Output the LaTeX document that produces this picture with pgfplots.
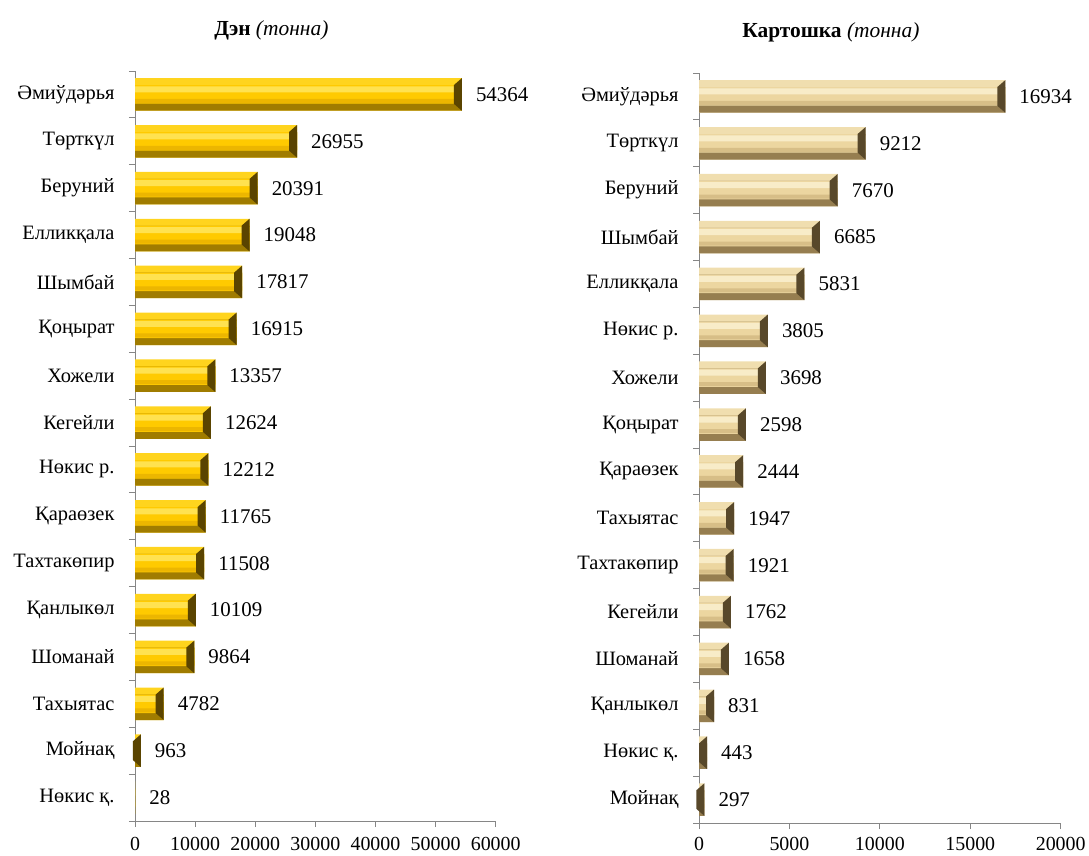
\documentclass[border=0pt]{standalone}
\usepackage{fontspec}
\setmainfont{Liberation Serif}
\usepackage{pgfplots}
\pgfplotsset{compat=1.18}
\usepackage{pgfplotstable}

\definecolor{axgray}{RGB}{134,134,134}
% gold
\definecolor{gcT}{RGB}{255,226,80}
\definecolor{gcM}{RGB}{255,202,0}
\definecolor{gcB}{RGB}{236,182,0}
\definecolor{gTop}{RGB}{255,212,30}
\definecolor{gBot}{RGB}{160,124,0}
\definecolor{gRight}{RGB}{90,68,0}
% beige
\definecolor{bcT}{RGB}{248,236,200}
\definecolor{bcM}{RGB}{236,214,160}
\definecolor{bcB}{RGB}{215,190,135}
\definecolor{bTop}{RGB}{240,222,175}
\definecolor{bBot}{RGB}{150,126,80}
\definecolor{bRight}{RGB}{88,72,42}

\pgfdeclareplotmark{rbevel}{%
  \pgfpathmoveto{\pgfqpoint{0pt}{16.3bp}}%
  \pgfpathlineto{\pgfqpoint{0pt}{-16.3bp}}%
  \pgfpathlineto{\pgfqpoint{-8bp}{-9.3bp}}%
  \pgfpathlineto{\pgfqpoint{-8bp}{9.3bp}}%
  \pgfpathclose
  \pgfusepathqfill}

\pgfplotstableread{
i v
0 54364
1 26955
2 20391
3 19048
4 17817
5 16915
6 13357
7 12624
8 12212
9 11765
10 11508
11 10109
12 9864
13 4782
14 963
15 28
}\grain

\pgfplotstableread{
i v
0 16934
1 9212
2 7670
3 6685
4 5831
5 3805
6 3698
7 2598
8 2444
9 1947
10 1921
11 1762
12 1658
13 831
14 443
15 297
}\potato

\pgfplotsset{
  common/.style={
    scale only axis, height=750bp,
    ymin=-0.5, ymax=15.5, y dir=reverse,
    axis x line*=bottom, axis y line*=left,
    axis line style={draw=axgray, line width=1bp},
    tick style={draw=axgray, line width=1bp},
    tick align=outside,
    major tick length=0pt,
    ytick={0,...,15},
    yticklabel style={font=\fontsize{20.5}{24}\selectfont, xshift=-17bp},
    xticklabel style={font=\fontsize{20}{22}\selectfont, yshift=-13bp},
    /pgf/number format/assume math mode=true,
    /pgf/number format/1000 sep={},
    scaled x ticks=false,
    clip=false,
    title style={at={(0.5,1)}, anchor=center, yshift=35bp, font=\fontsize{21.5}{24}\selectfont},
  },
  lay/.style n args={3}{xbar, draw=none, fill=#1, bar width=#2, bar shift=#3},
  lbl/.style={point meta=explicit symbolic, nodes near coords,
    every node near coord/.append style={anchor=west, inner sep=0pt, xshift=14bp,
      font=\fontsize{21}{24}\selectfont, text=black}},
}

\begin{document}
\begin{tikzpicture}
\useasboundingbox (0,0) rectangle (1089bp,856bp);
\begin{axis}[common,
  at={(135bp,35bp)}, anchor=south west, width=360.7bp,
  xmin=0, xmax=60000, xtick={0,10000,20000,30000,40000,50000,60000},
  yticklabels={Әмиўдәрья,Төрткүл,Беруний,Елликқала,Шымбай,Қоңырат,Хожели,Кегейли,Нөкис р.,Қараөзек,Тахтакөпир,Қанлыкөл,Шоманай,Тахыятас,Мойнақ,Нөкис қ.},
  title={\textbf{Дэн} \textit{(тонна)}},
  title style={xshift=-44bp},
]
\addplot[lay={gTop}{32.5bp}{0bp}] table[x=v, y=i] {\grain};
\addplot[lay={gBot}{25.5bp}{-3.5bp}] table[x=v, y=i] {\grain};
\addplot[lay={gcM}{18.5bp}{0bp}] table[x=v, y=i] {\grain};
\addplot[lay={gcT}{6bp}{5bp}] table[x=v, y=i] {\grain};
\addplot[lay={gcB}{4bp}{-6.5bp}] table[x=v, y=i] {\grain};
\addplot[only marks, mark=rbevel, mark options={fill=gRight, draw=none},
  restrict x to domain=100:100000] table[x=v, y=i] {\grain};
\addplot[draw=none, mark=none, lbl] table[x=v, y=i, meta=v] {\grain};
\pgfplotsinvokeforeach{-0.5,0.5,1.5,2.5,3.5,4.5,5.5,6.5,7.5,8.5,9.5,10.5,11.5,12.5,13.5,14.5,15.5}{
  \draw[axgray, line width=1bp] ([xshift=-6bp]axis cs:0,#1) -- (axis cs:0,#1);}
\pgfplotsinvokeforeach{0,10000,20000,30000,40000,50000,60000}{
  \draw[axgray, line width=1bp] ([yshift=-6bp]axis cs:#1,15.5) -- (axis cs:#1,15.5);}
\end{axis}
\begin{axis}[common,
  at={(699bp,33bp)}, anchor=south west, width=361.7bp,
  xmin=0, xmax=20000, xtick={0,5000,10000,15000,20000},
  xticklabel style={yshift=2bp},
  yticklabels={Әмиўдәрья,Төрткүл,Беруний,Шымбай,Елликқала,Нөкис р.,Хожели,Қоңырат,Қараөзек,Тахыятас,Тахтакөпир,Кегейли,Шоманай,Қанлыкөл,Нөкис қ.,Мойнақ},
  title={\textbf{Картошка} \textit{(тонна)}},
  title style={xshift=-49bp},
]
\addplot[lay={bTop}{32.5bp}{0bp}] table[x=v, y=i] {\potato};
\addplot[lay={bBot}{25.5bp}{-3.5bp}] table[x=v, y=i] {\potato};
\addplot[lay={bcM}{18.5bp}{0bp}] table[x=v, y=i] {\potato};
\addplot[lay={bcT}{6bp}{5bp}] table[x=v, y=i] {\potato};
\addplot[lay={bcB}{4bp}{-6.5bp}] table[x=v, y=i] {\potato};
\addplot[only marks, mark=rbevel, mark options={fill=bRight, draw=none},
  restrict x to domain=100:100000] table[x=v, y=i] {\potato};
\addplot[draw=none, mark=none, lbl] table[x=v, y=i, meta=v] {\potato};
\pgfplotsinvokeforeach{-0.5,0.5,1.5,2.5,3.5,4.5,5.5,6.5,7.5,8.5,9.5,10.5,11.5,12.5,13.5,14.5,15.5}{
  \draw[axgray, line width=1bp] ([xshift=-6bp]axis cs:0,#1) -- (axis cs:0,#1);}
\pgfplotsinvokeforeach{0,5000,10000,15000,20000}{
  \draw[axgray, line width=1bp] ([yshift=-6bp]axis cs:#1,15.5) -- (axis cs:#1,15.5);}
\end{axis}
\end{tikzpicture}
\end{document}
